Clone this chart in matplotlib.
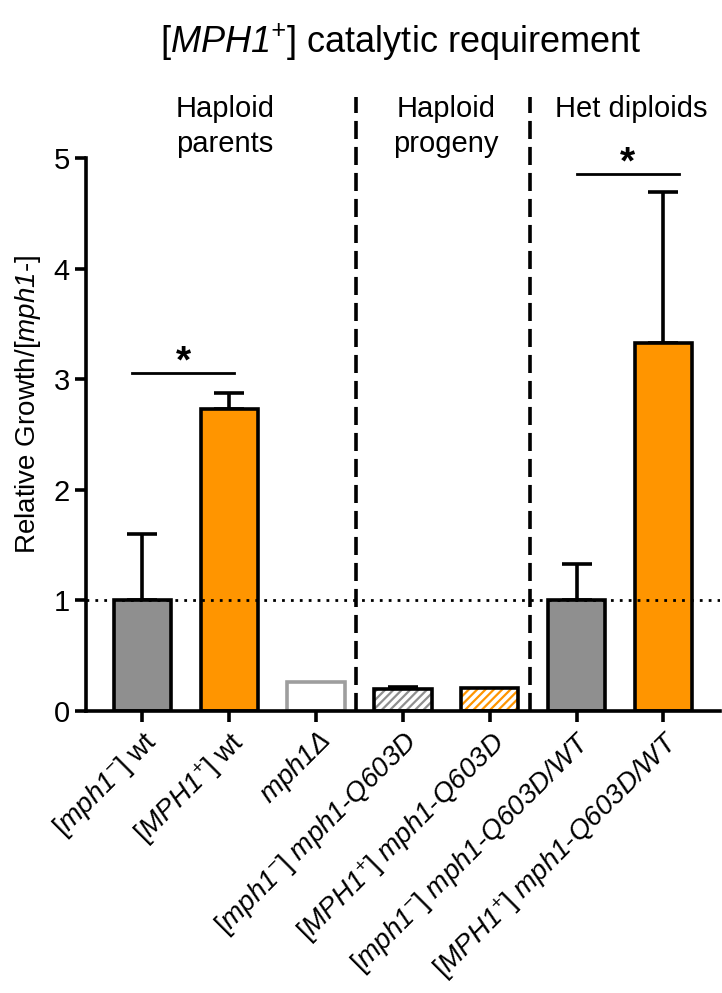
import matplotlib
matplotlib.use("Agg")
import matplotlib.pyplot as plt

plt.rcParams['font.family'] = ['Liberation Sans', 'DejaVu Sans']
# everything inside $...$ is italic, plain text stays upright
plt.rcParams['mathtext.fontset'] = 'custom'
plt.rcParams['mathtext.rm'] = 'Liberation Sans:italic'
plt.rcParams['mathtext.it'] = 'Liberation Sans:italic'
plt.rcParams['mathtext.bf'] = 'Liberation Sans:bold'
plt.rcParams['hatch.linewidth'] = 1.6

labels = [r'[$mph1^{-}$] wt',
          r'[$MPH1^{+}$] wt',
          r'$mph1Δ$',
          r'[$mph1^{-}$] $mph1$-$Q603D$',
          r'[$MPH1^{+}$] $mph1$-$Q603D$',
          r'[$mph1^{-}$] $mph1$-$Q603D/WT$',
          r'[$MPH1^{+}$] $mph1$-$Q603D/WT$']
means = [1.0, 2.73, 0.26, 0.20, 0.21, 1.0, 3.33]
errs = [0.60, 0.15, 0.0, 0.02, 0.0, 0.33, 1.36]
faces = ['#8f8f8f', '#ff9500', 'white', 'white', 'white', '#8f8f8f', '#ff9500']
edges = ['black', 'black', '#9e9e9e', 'black', 'black', 'black', 'black']
hatch_colors = [None, None, None, '#8f8f8f', '#ff9500', None, None]

groups = ['Haploid\nparents', 'Haploid\nprogeny', 'Het diploids']
group_x = [0.95, 3.5, 5.63]
dividers = [2.46, 4.46]
sig_pairs = [(-0.12, 1.06, 3.06), (5.0, 6.18, 4.86)]

fig = plt.figure(figsize=(7.22, 9.93), dpi=100)
ax = fig.add_axes([0.119, 0.284, 0.878, 0.618])

x = list(range(len(means)))
w = 0.66
for i in x:
    if hatch_colors[i]:
        ax.bar(i, means[i], w, color='white', edgecolor=hatch_colors[i],
               hatch='////', linewidth=0, zorder=2)
        ax.bar(i, means[i], w, fill=False, edgecolor=edges[i],
               linewidth=2.6, zorder=3)
    else:
        ax.bar(i, means[i], w, color=faces[i], edgecolor=edges[i],
               linewidth=2.6, zorder=2)
    if errs[i] > 0:
        ax.errorbar(i, means[i], yerr=[[0], [errs[i]]], color='black',
                    elinewidth=2.6, capsize=11, capthick=2.6, zorder=1)

ax.axhline(1, color='black', linestyle=(0, (1, 2.2)), linewidth=2, zorder=4)
for d in dividers:
    ax.plot([d, d], [0, 5.55], color='black', linestyle=(0, (5, 2.2)),
            linewidth=2.6, clip_on=False, zorder=4)

for x0, x1, y in sig_pairs:
    ax.plot([x0, x1], [y, y], color='black', linewidth=2)
    ax.text((x0 + x1) / 2, y - 0.07, '*', ha='center', va='bottom',
            fontsize=28, fontweight='bold')

for gx, g in zip(group_x, groups):
    ax.text(gx, 5.57, g, ha='center', va='top', fontsize=21,
            linespacing=1.3)

ax.set_xlim(-0.65, 6.65)
ax.set_ylim(0, 5.55)
ax.set_yticks(range(6))
ax.tick_params(axis='both', width=2.6, length=8, labelsize=21)
ax.set_xticks(x)
ax.set_xticklabels(labels, rotation=45, ha='right', va='top',
                   rotation_mode='anchor', fontsize=20)
ax.set_ylabel(r'Relative Growth/[$mph1$-]', fontsize=20, labelpad=8)

for s in ['top', 'right']:
    ax.spines[s].set_visible(False)
for s in ['left', 'bottom']:
    ax.spines[s].set_linewidth(2.6)
ax.spines['left'].set_bounds(0, 5)

fig.suptitle(r'[$MPH1^{+}$] catalytic requirement', fontsize=26,
             x=0.555, y=0.978)

fig.savefig('out.png', dpi=100)
